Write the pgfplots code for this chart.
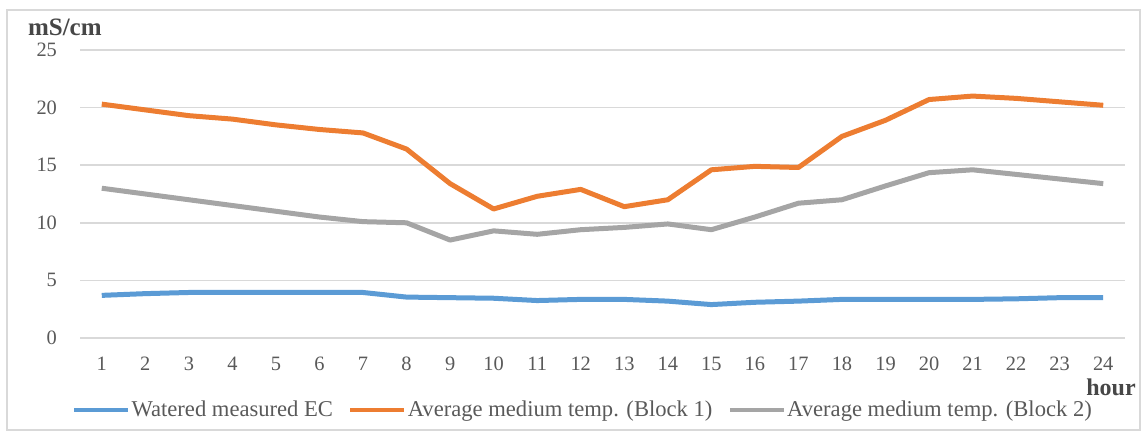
\documentclass[border=0pt]{standalone}
\usepackage{fontspec}
\setmainfont{Liberation Serif}
\usepackage{pgfplots}
\pgfplotsset{compat=1.18}

\definecolor{ecblue}{HTML}{5B9BD5}
\definecolor{blk1}{HTML}{ED7D31}
\definecolor{blk2}{HTML}{A5A5A5}
\definecolor{gridgray}{HTML}{D9D9D9}
\definecolor{txtgray}{HTML}{595959}

\begin{document}
\begin{tikzpicture}
\useasboundingbox (0,0) rectangle (573pt,218.5pt);
\draw[gridgray, line width=0.8pt] (3.5pt,3.5pt) rectangle (570pt,213.5pt);
\begin{axis}[
    at={(40pt,49.5pt)}, anchor=south west,
    scale only axis, width=522.5pt, height=144pt,
    xmin=0.5, xmax=24.5, ymin=0, ymax=25,
    xtick={1,...,24}, ytick={0,5,...,25},
    axis line style={draw=none},
    major tick length=0pt,
    ymajorgrids, grid style={gridgray, line width=0.8pt},
    /pgf/number format/assume math mode=true,
    ticklabel style={font=\fontsize{10.2}{12}\selectfont, text=txtgray},
    yticklabel style={xshift=-8pt},
    xticklabel style={yshift=-6pt},
    ylabel={mS/cm},
    ylabel style={rotate=-90, at={(rel axis cs:0,1)}, anchor=west,
        xshift=-29.5pt, yshift=11.5pt, font=\fontsize{12.5}{14}\bfseries, text=txtgray!80!black},
    xlabel={hour},
    xlabel style={at={(rel axis cs:1,0)}, anchor=center,
        xshift=-7pt, yshift=-24.5pt, font=\fontsize{12}{14}\bfseries, text=txtgray!80!black},
    legend columns=3,
    legend style={at={(rel axis cs:0.5,0)}, anchor=center, xshift=-10pt, yshift=-36pt,
        draw=none, fill=none, font=\fontsize{11.3}{13}\selectfont, text=txtgray,
        /tikz/every even column/.append style={column sep=7pt},
        nodes={inner xsep=0.6pt}},
    legend image code/.code={\draw[#1, line width=2.2pt] (0pt,0pt) -- (27pt,0pt);},
    every axis plot/.append style={line width=2.5pt, line join=round},
]
\addplot[ecblue] coordinates {
(1,3.7) (2,3.85) (3,3.95) (4,3.95) (5,3.95) (6,3.95) (7,3.95) (8,3.55)
(9,3.5) (10,3.45) (11,3.25) (12,3.35) (13,3.35) (14,3.2) (15,2.9) (16,3.1)
(17,3.2) (18,3.35) (19,3.35) (20,3.35) (21,3.35) (22,3.4) (23,3.5) (24,3.5)};
\addlegendentry{Watered measured EC}
\addplot[blk1] coordinates {
(1,20.3) (2,19.8) (3,19.3) (4,19.0) (5,18.5) (6,18.1) (7,17.8) (8,16.4)
(9,13.4) (10,11.2) (11,12.3) (12,12.9) (13,11.4) (14,12.0) (15,14.6) (16,14.9)
(17,14.8) (18,17.5) (19,18.9) (20,20.7) (21,21.0) (22,20.8) (23,20.5) (24,20.2)};
\addlegendentry{Average medium temp. (Block 1)}
\addplot[blk2] coordinates {
(1,13.0) (2,12.5) (3,12.0) (4,11.5) (5,11.0) (6,10.5) (7,10.1) (8,10.0)
(9,8.5) (10,9.3) (11,9.0) (12,9.4) (13,9.6) (14,9.9) (15,9.4) (16,10.5)
(17,11.7) (18,12.0) (19,13.2) (20,14.35) (21,14.6) (22,14.2) (23,13.8) (24,13.4)};
\addlegendentry{Average medium temp. (Block 2)}
\end{axis}
\end{tikzpicture}
\end{document}
